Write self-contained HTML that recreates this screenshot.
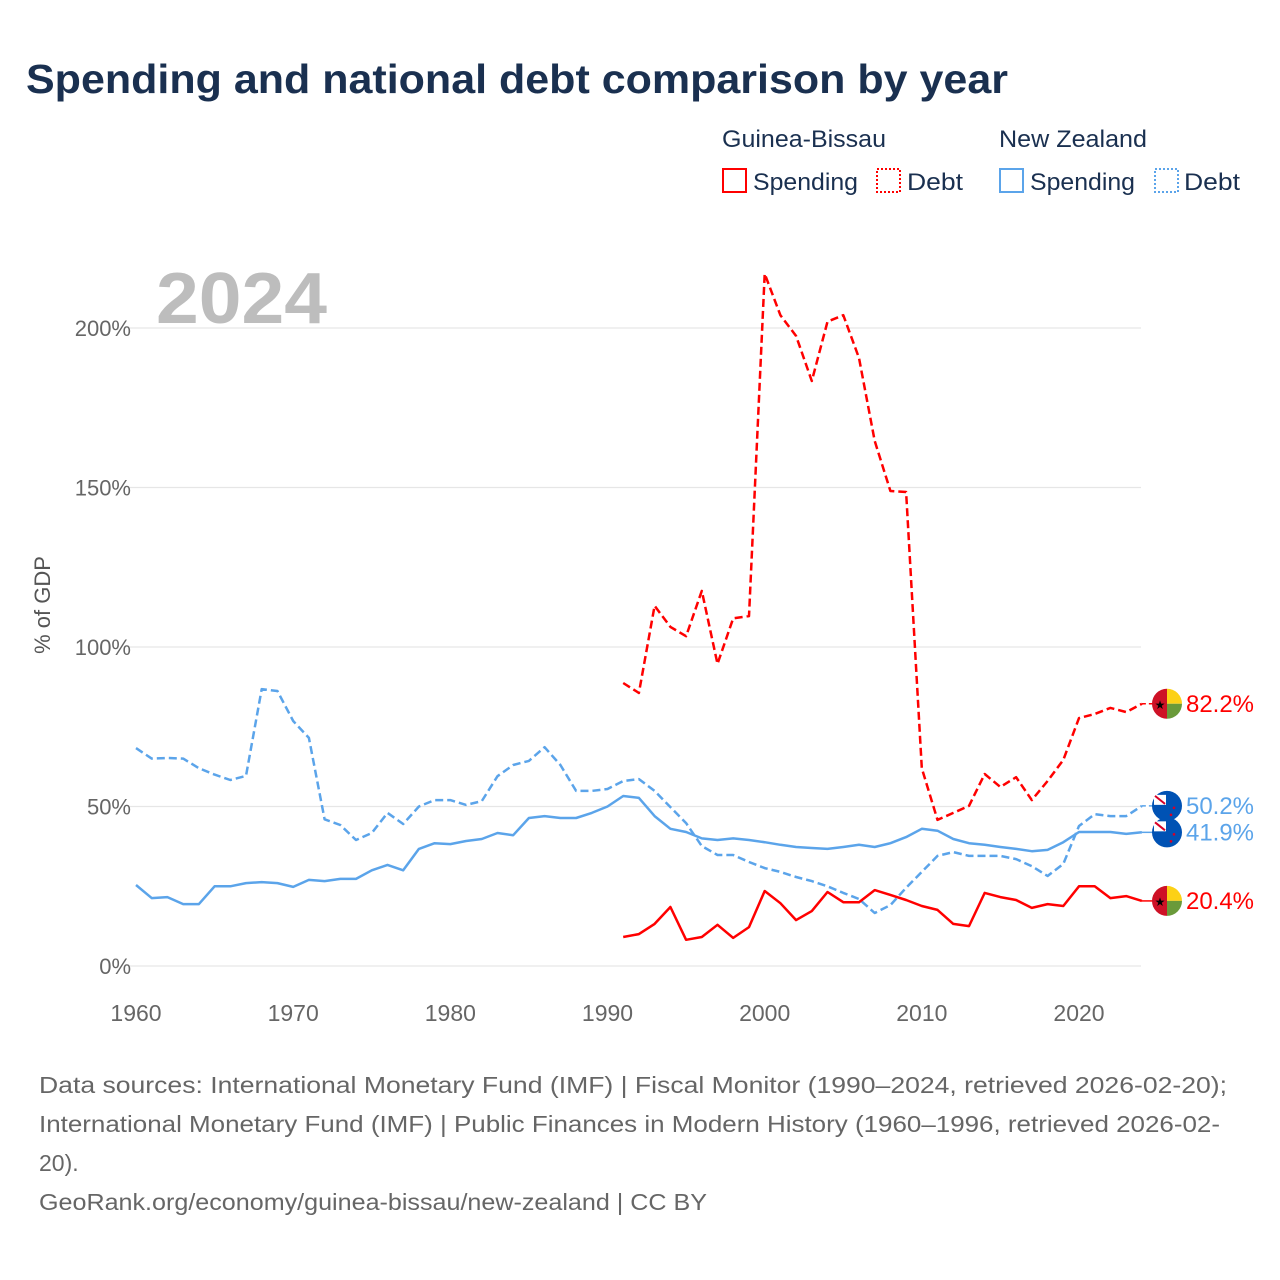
<!DOCTYPE html>
<html><head><meta charset="utf-8"><style>
body{margin:0;background:#fff;font-family:"Liberation Sans",sans-serif;}
svg{display:block}
</style></head><body>
<svg id="chart" width="1280" height="1280" viewBox="0 0 1280 1280">
<text x="26" y="93" font-size="41" font-weight="bold" fill="#1a3050" textLength="982" lengthAdjust="spacingAndGlyphs">Spending and national debt comparison by year</text>
<g font-size="24" fill="#1a3050">
<text x="722" y="147" textLength="164" lengthAdjust="spacingAndGlyphs">Guinea-Bissau</text>
<text x="999" y="147" textLength="148" lengthAdjust="spacingAndGlyphs">New Zealand</text>
<rect x="723" y="169" width="23" height="23" fill="none" stroke="#f00" stroke-width="2"/>
<text x="753" y="190" textLength="105" lengthAdjust="spacingAndGlyphs">Spending</text>
<rect x="877" y="169" width="23" height="23" fill="none" stroke="#f00" stroke-width="2" stroke-dasharray="2,2"/>
<text x="907" y="190" textLength="56" lengthAdjust="spacingAndGlyphs">Debt</text>
<rect x="1000" y="169" width="23" height="23" fill="none" stroke="#5ba4ea" stroke-width="2"/>
<text x="1030" y="190" textLength="105" lengthAdjust="spacingAndGlyphs">Spending</text>
<rect x="1155" y="169" width="23" height="23" fill="none" stroke="#5ba4ea" stroke-width="2" stroke-dasharray="2,2"/>
<text x="1184" y="190" textLength="56" lengthAdjust="spacingAndGlyphs">Debt</text>
</g>
<text x="156" y="323" font-size="72" font-weight="bold" fill="#bdbdbd" textLength="171" lengthAdjust="spacingAndGlyphs">2024</text>
<text transform="translate(50,605) rotate(-90)" text-anchor="middle" font-size="22" fill="#555">% of GDP</text>
<g id="grid"></g>
<g id="xticks"></g>
<g id="series"></g>
<g id="ends"></g>
<g font-size="23" fill="#666">
<text x="39" y="1093" textLength="1188" lengthAdjust="spacingAndGlyphs">Data sources: International Monetary Fund (IMF) | Fiscal Monitor (1990–2024, retrieved 2026-02-20);</text>
<text x="39" y="1132" textLength="1181" lengthAdjust="spacingAndGlyphs">International Monetary Fund (IMF) | Public Finances in Modern History (1960–1996, retrieved 2026-02-</text>
<text x="39" y="1171">20).</text>
<text x="39" y="1210" textLength="668" lengthAdjust="spacingAndGlyphs">GeoRank.org/economy/guinea-bissau/new-zealand | CC BY</text>
</g>
</svg>
<script>
const yTicks=[0,50,100,150,200];
const yTickLabels=["0%","50%","100%","150%","200%"];
const xTicks=[1960,1970,1980,1990,2000,2010,2020];
const nzStart=1960, gbStart=1991;
const nzSpending=[25.4,21.3,21.6,19.4,19.4,25,25,26,26.3,26,24.8,27,26.6,27.3,27.3,30,31.7,30,36.7,38.5,38.2,39.2,39.8,41.7,41,46.4,47,46.4,46.4,48,50,53.3,52.7,47,43,42,40,39.5,40,39.5,38.8,38,37.3,37,36.7,37.3,38,37.3,38.5,40.4,43,42.4,39.8,38.5,38,37.3,36.7,36,36.4,38.8,42,42,42,41.4,41.9];
const nzDebt=[68.3,65,65.2,65,62,60,58.3,59.6,86.8,86.2,76.8,71.5,46,44.2,39.5,41.7,48,44.5,50,52,52,50.5,51.7,59.5,63,64.3,68.6,63,54.9,54.9,55.5,58,58.6,54.9,49.8,44.8,37.6,34.8,34.8,32.6,30.7,29.5,27.9,26.6,25,22.9,21,16.6,19.1,24.5,29.5,34.5,35.7,34.5,34.5,34.5,33.5,31.3,28.2,32,43.9,47.6,47,47,50.2];
const gbDebt=[88.7,85.6,112.9,106.3,103.4,117.6,94.7,109,109.7,217,204,197.5,183.4,202,204,190.6,164.6,148.9,148.6,62,45.8,48,50.2,60.2,56.1,59.2,52,58,64.6,77.7,79,80.9,79.6,82.2];
const gbSpending=[9.1,10,13.2,18.5,8.2,9.1,12.9,8.8,12.2,23.5,19.7,14.4,17.2,23.2,20,20,23.8,22.3,20.7,18.8,17.6,13.2,12.5,22.9,21.6,20.7,18.2,19.4,18.8,25,25,21.3,21.9,20.4];
const endLabels=["82.2%","50.2%","41.9%","20.4%"];

const NS="http://www.w3.org/2000/svg";
const X=yr=>136+(yr-1960)*(1079-136)/60;
const Y=v=>966-v*(966-328)/200;
function mk(tag,attrs,parent){const e=document.createElementNS(NS,tag);for(const k in attrs)e.setAttribute(k,attrs[k]);parent.appendChild(e);return e;}
const grid=document.getElementById('grid');
yTicks.forEach((t,i)=>{
  const l=mk('line',{x1:130,x2:1141,y1:Y(t),y2:Y(t),stroke:'#e6e6e6','stroke-width':1.3},grid);
  
  
  const tx=mk('text',{x:131,y:Y(t)+8,'text-anchor':'end','font-size':22,fill:'#666'},grid);
  tx.textContent=yTickLabels[i];
  
  
});
const xt=document.getElementById('xticks');
xTicks.forEach(t=>{
  const tx=mk('text',{x:X(t),y:1021,'text-anchor':'middle','font-size':23,fill:'#666'},xt);
  tx.textContent=t;
  
  
});
const ser=document.getElementById('series');
function line(data,start,color,dash,name){
  const d=data.map((v,i)=>(i?'L':'M')+X(start+i).toFixed(1)+','+Y(v).toFixed(1)).join('');
  const p=mk('path',{d:d,fill:'none',stroke:color,'stroke-width':2.5,'stroke-linejoin':'round'},ser);
  if(dash)p.setAttribute('stroke-dasharray','8,4');
  
  
  const lastY=Y(data[data.length-1]);
  const s=mk('line',{x1:X(start+data.length-1),x2:1155,y1:lastY,y2:lastY,stroke:color,'stroke-width':1.5},ser);
  if(dash)s.setAttribute('stroke-dasharray','4,3');
  
  
}
line(nzSpending,nzStart,'#5ba4ea',false,'nz-spending-line');
line(nzDebt,nzStart,'#5ba4ea',true,'nz-debt-line');
line(gbSpending,gbStart,'#f00',false,'gb-spending-line');
line(gbDebt,gbStart,'#f00',true,'gb-debt-line');
const ends=document.getElementById('ends');
const endSeries=[[gbDebt,'gb','#f00'],[nzDebt,'nz','#5ba4ea'],[nzSpending,'nz','#5ba4ea'],[gbSpending,'gb','#f00']];
endSeries.forEach((s,i)=>{
  const v=s[0][s[0].length-1], y=Y(v), cx=1167;
  const g=mk('g',{},ends);
  
  
  if(s[1]==='gb'){
    mk('path',{d:`M${cx},${y-15}A15,15 0 0 0 ${cx},${y+15}Z`,fill:'#ce1126'},g);
    mk('path',{d:`M${cx},${y-15}A15,15 0 0 1 ${cx+15},${y}L${cx},${y}Z`,fill:'#fcd116'},g);
    mk('path',{d:`M${cx},${y+15}A15,15 0 0 0 ${cx+15},${y}L${cx},${y}Z`,fill:'#6a9a3a'},g);
    const st=mk('text',{x:cx-7,y:y+5,'text-anchor':'middle','font-size':12,fill:'#000'},g);st.textContent='★';
  }else{
    mk('circle',{cx:cx,cy:y,r:15,fill:'#0052b4'},g);
    mk('rect',{x:cx-13,y:y-11,width:12,height:10,fill:'#fff'},g);
    mk('line',{x1:cx-12,y1:y-10,x2:cx-2,y2:y-2,stroke:'#d80027','stroke-width':2},g);
    mk('circle',{cx:cx+7,cy:y+2,r:1.3,fill:'#d80027'},g);
    mk('circle',{cx:cx+4,cy:y+9,r:1.3,fill:'#d80027'},g);
  }
  const t=mk('text',{x:1186,y:y+8,'font-size':24,fill:s[2],textLength:68,lengthAdjust:'spacingAndGlyphs'},ends);
  t.textContent=endLabels[i];
  
  
});
</script>
</body></html>
